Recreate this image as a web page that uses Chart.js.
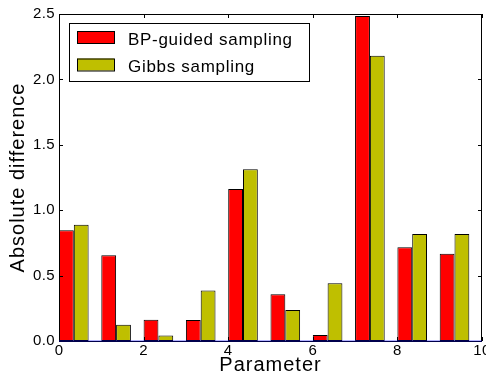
<!DOCTYPE html>
<html>
<head>
<meta charset="utf-8">
<script src="https://cdn.jsdelivr.net/npm/chart.js@4/dist/chart.umd.min.js"></script>
<style>
  html, body { margin: 0; padding: 0; background: #ffffff; }
  #wrap { width: 486px; height: 382px; }
</style>
</head>
<body>
<div id="wrap"><canvas id="chart" width="486" height="382"></canvas></div>
<script>
// Parameter indices and the absolute difference measured for each sampler
const params = [0, 1, 2, 3, 4, 5, 6, 7, 8, 9];
const bpGuided = [0.846, 0.655, 0.163, 0.160, 1.162, 0.357, 0.046, 2.485, 0.716, 0.668];
const gibbs = [0.889, 0.125, 0.043, 0.387, 1.313, 0.237, 0.441, 2.181, 0.818, 0.818];
const seriesLabels = ['BP-guided sampling', 'Gibbs sampling'];
const xTicks = [0, 2, 4, 6, 8, 10];
const yTicks = [0, 0.5, 1.0, 1.5, 2.0, 2.5];

// Each bar is 0.35 wide; a pair starts at its parameter index
const BAR_WIDTH = 0.35;
const pairCentre = p => p + BAR_WIDTH;

const RED = '#ff0000';
const OLIVE = '#bfbf00';
const FONT = '"Liberation Sans", Arial, sans-serif';

// Slightly loose tracking on the axis text, keyed by font size in px
const tracking = { 15: '0.4px', 17: '0.7px', 20: '1px' };
const trackingPlugin = {
  id: 'tracking',
  beforeDraw(chart) {
    const ctx = chart.ctx;
    if (ctx.__tracked) return;
    const fill = ctx.fillText;
    ctx.fillText = function (text, x, y, maxWidth) {
      const m = /(\d+(?:\.\d+)?)px/.exec(this.font);
      this.letterSpacing = (m && tracking[Math.round(parseFloat(m[1]))]) || '0px';
      return maxWidth === undefined ? fill.call(this, text, x, y) : fill.call(this, text, x, y, maxWidth);
    };
    ctx.__tracked = true;
  }
};

// Frame, inward tick marks on all four sides and the blue zero line
const framePlugin = {
  id: 'frame',
  afterDatasetsDraw(chart) {
    const { ctx, chartArea: a, scales } = chart;
    const len = 4;
    ctx.save();
    ctx.strokeStyle = '#000000';
    ctx.lineWidth = 1;
    ctx.beginPath();
    scales.x.ticks.forEach(t => {
      const px = Math.round(scales.x.getPixelForValue(t.value)) + 0.5;
      ctx.moveTo(px, a.top); ctx.lineTo(px, a.top + len);
      ctx.moveTo(px, a.bottom); ctx.lineTo(px, a.bottom - len);
    });
    scales.y.ticks.forEach(t => {
      const py = Math.round(scales.y.getPixelForValue(t.value)) + 0.5;
      ctx.moveTo(a.left, py); ctx.lineTo(a.left + len, py);
      ctx.moveTo(a.right, py); ctx.lineTo(a.right - len, py);
    });
    ctx.stroke();
    ctx.strokeRect(a.left + 0.5, a.top + 0.5, a.right - a.left - 1, a.bottom - a.top);
    // zero line
    const y0 = scales.y.getPixelForValue(0);
    ctx.strokeStyle = 'rgba(0, 0, 255, 0.4)';
    ctx.lineWidth = 1.5;
    ctx.beginPath();
    ctx.moveTo(a.left, y0); ctx.lineTo(a.right, y0);
    ctx.stroke();
    ctx.restore();
  }
};

// Boxed legend in the upper-left corner of the plot
const legendBoxPlugin = {
  id: 'legendBox',
  afterDraw(chart) {
    const { ctx, chartArea: a } = chart;
    const left = a.left + 10, top = a.top + 9, w = 240, h = 58;
    ctx.save();
    ctx.fillStyle = '#ffffff';
    ctx.fillRect(left, top, w, h);
    ctx.strokeStyle = '#000000';
    ctx.lineWidth = 1;
    ctx.strokeRect(left + 0.5, top + 0.5, w, h);
    ctx.font = '17px ' + FONT;
    ctx.letterSpacing = tracking[17];
    ctx.textBaseline = 'alphabetic';
    chart.data.datasets.forEach((ds, i) => {
      const rowTop = top + 8 + i * 27.5;
      ctx.fillStyle = ds.backgroundColor;
      ctx.fillRect(left + 8, rowTop, 37, 12);
      ctx.strokeRect(left + 8.5, rowTop + 0.5, 37, 12);
      ctx.fillStyle = '#000000';
      ctx.fillText(ds.label, left + 59, rowTop + 13.5);
    });
    ctx.restore();
  }
};

const makeSeries = values => params.map((p, i) => ({ x: pairCentre(p), y: values[i] }));

new Chart(document.getElementById('chart'), {
  type: 'bar',
  data: {
    datasets: [
      { label: seriesLabels[0], data: makeSeries(bpGuided), backgroundColor: RED,
        borderColor: '#000000', borderWidth: 1, borderSkipped: false },
      { label: seriesLabels[1], data: makeSeries(gibbs), backgroundColor: OLIVE,
        borderColor: '#000000', borderWidth: 1, borderSkipped: false }
    ]
  },
  options: {
    responsive: false,
    devicePixelRatio: 1,
    animation: false,
    categoryPercentage: 2 * BAR_WIDTH,
    barPercentage: 1.0,
    layout: { padding: { top: 14, right: 4, left: 0, bottom: 0 } },
    plugins: { legend: { display: false }, tooltip: { enabled: false } },
    scales: {
      x: {
        type: 'linear',
        min: 0, max: 10,
        offset: false,
        grid: { display: false, offset: false, drawTicks: false },
        border: { display: false },
        afterBuildTicks: s => { s.ticks = xTicks.map(v => ({ value: v })); },
        afterFit: s => { s.height = 41; s.paddingLeft = 0; s.paddingRight = 0; },
        ticks: {
          color: '#000000', padding: 1, maxRotation: 0, autoSkip: false,
          font: { family: FONT, size: 15 },
          callback: v => String(v)
        },
        title: {
          display: true, text: 'Parameter', color: '#000000',
          font: { family: FONT, size: 20 }, padding: { top: 0, bottom: 5 }
        }
      },
      y: {
        min: 0, max: 2.5,
        grid: { display: false, drawTicks: false },
        border: { display: false },
        afterBuildTicks: s => { s.ticks = yTicks.map(v => ({ value: v })); },
        afterFit: s => { s.width = 59; s.paddingTop = 0; s.paddingBottom = 0; },
        ticks: {
          color: '#000000', padding: 4,
          font: { family: FONT, size: 15 },
          callback: v => Number(v).toFixed(1)
        },
        title: {
          display: true, text: 'Absolute difference', color: '#000000',
          font: { family: FONT, size: 20 }, padding: { top: 6, bottom: 0 }
        }
      }
    }
  },
  plugins: [trackingPlugin, framePlugin, legendBoxPlugin]
});
</script>
</body>
</html>
